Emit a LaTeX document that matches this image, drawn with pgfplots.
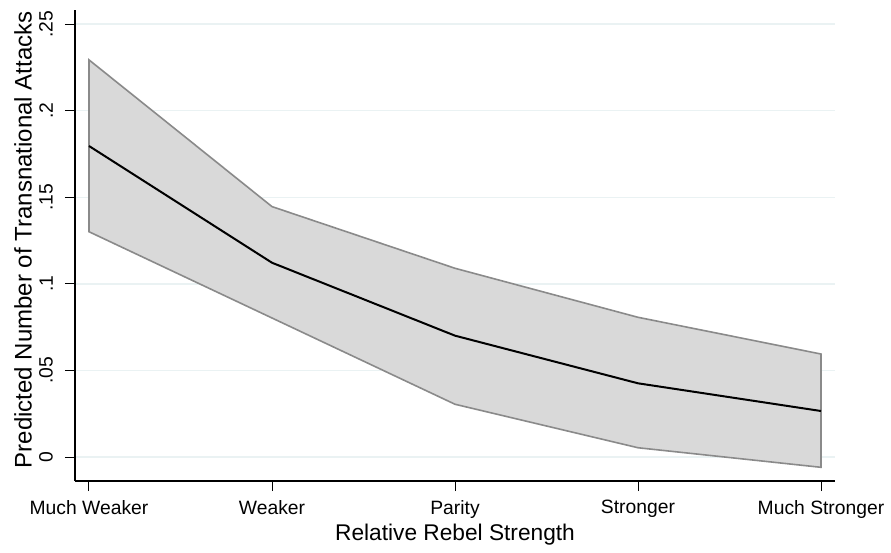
\documentclass[border=0pt]{standalone}
\usepackage{pgfplots}
\pgfplotsset{compat=1.18}
\usepackage{fontspec}
\setmainfont{Liberation Sans}
\definecolor{bandfill}{RGB}{217,217,217}
\definecolor{bandedge}{RGB}{138,138,138}
\definecolor{gridc}{RGB}{234,242,243}
\begin{document}
\begin{tikzpicture}
\begin{axis}[
  scale only axis, width=760pt, height=471pt,
  xmin=-0.0765, xmax=4.0765, ymin=-0.0138, ymax=0.2581,
  axis x line*=bottom, axis y line*=left,
  axis line style={line width=1.3pt, black, -},
  xtick={0,1,2,3,4},
  xticklabels={Much Weaker,Weaker,Parity,Stronger,Much Stronger},
  ytick={0,0.05,0.1,0.15,0.2,0.25},
  yticklabels={0,.05,.1,.15,.2,.25},
  tick align=outside, major tick length=10pt,
  tick style={line width=1pt, black},
  ymajorgrids, grid style={gridc, line width=1.5pt},
  ticklabel style={font=\fontsize{19.3}{23}\selectfont},
  yticklabel style={xshift=-12pt, rotate=90, anchor=south, inner sep=0pt},
  xticklabel style={anchor=north, inner sep=0pt, yshift=-9pt},
  xlabel={Relative Rebel Strength},
  ylabel={Predicted Number of Transnational Attacks},
  xlabel style={font=\fontsize{22.7}{26}\selectfont, at={(axis description cs:0.5,0)}, anchor=center, yshift=-53.5pt},
  ylabel style={font=\fontsize{24}{28}\selectfont, at={(axis description cs:-0.0684,0.512)}, anchor=center},
  /pgf/number format/assume math mode=true,
]
\addplot[fill=bandfill, draw=bandedge, line width=1.6pt] coordinates {
  (0,0.2293) (1,0.1446) (2,0.1090) (3,0.0807) (4,0.0595)
  (4,-0.0059) (3,0.0054) (2,0.0305) (1,0.0803) (0,0.1301)
} -- cycle;
\addplot[black, line width=2pt] coordinates {
  (0,0.1796) (1,0.1122) (2,0.0701) (3,0.0426) (4,0.0266)
};
\end{axis}
\path (current axis.south west) ++(-75pt,-71pt) rectangle ++(891pt,552pt);
\end{tikzpicture}
\end{document}
